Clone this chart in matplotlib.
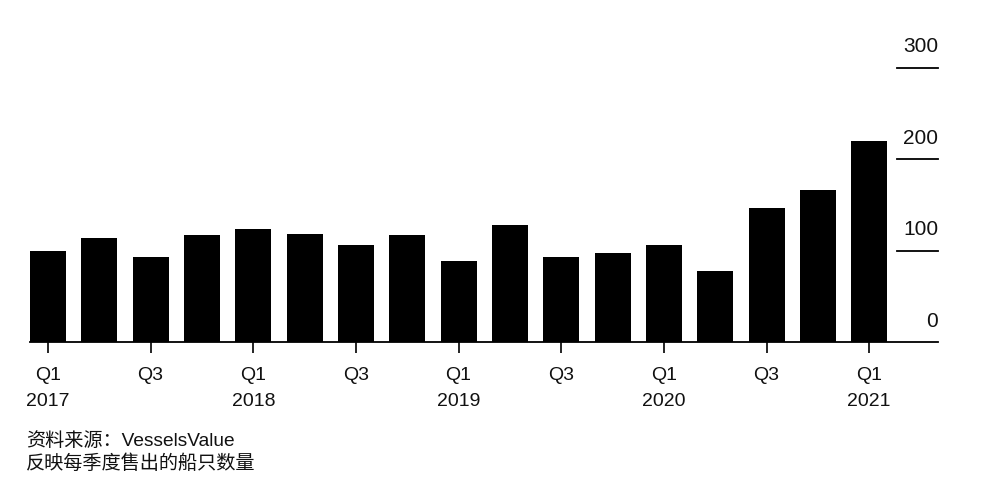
import matplotlib
matplotlib.use("Agg")
import matplotlib.pyplot as plt
import matplotlib.transforms as mtransforms

plt.rcParams['font.family'] = ['Liberation Sans', 'Noto Sans CJK SC', 'DejaVu Sans']

quarters = ["Q1\n2017", "Q2", "Q3", "Q4", "Q1\n2018", "Q2", "Q3", "Q4",
            "Q1\n2019", "Q2", "Q3", "Q4", "Q1\n2020", "Q2", "Q3", "Q4", "Q1\n2021"]
values = [99, 114, 93, 117, 123, 118, 106, 117, 89, 128, 93, 97, 106, 78, 146, 166, 220]
yticks = [0, 100, 200, 300]
source_line = "资料来源：VesselsValue"
note_line = "反映每季度售出的船只数量"

W, H = 1005, 480
fig = plt.figure(figsize=(W / 100, H / 100), dpi=100)
fig.patch.set_facecolor("white")

ymax = 320
px_per_unit = 0.915
bottom_px = 342
top_px = bottom_px - ymax * px_per_unit
ax = fig.add_axes([30 / W, (H - bottom_px) / H, (938 - 30) / W, (bottom_px - top_px) / H])

x = list(range(len(values)))
ax.bar(x, values, width=0.7, color="black", edgecolor="none")
ax.set_xlim(-0.35, 17.34)
ax.set_ylim(0, ymax)

for s in ["top", "right", "left"]:
    ax.spines[s].set_visible(False)
ax.spines["bottom"].set_linewidth(1.3)
ax.spines["bottom"].set_color("black")

tick_pos = x[::2]
tick_labels = [quarters[i] for i in tick_pos]
ax.set_xticks(tick_pos)
ax.set_xticklabels(tick_labels, fontsize=14, linespacing=1.7, va="top", color="#111111")
ax.tick_params(axis="x", length=8, width=1.2, color="black", pad=10)
ax.set_yticks([])

trans = mtransforms.blended_transform_factory(ax.transAxes, ax.transData)
left_frac = (897 - 30) / (938 - 30)
for v in yticks:
    if v > 0:
        ax.plot([left_frac, 1.0], [v, v], transform=trans, color="black", lw=1.3, clip_on=False)
    ax.annotate(str(v), xy=(1.0, v), xycoords=trans, xytext=(0, 8), textcoords="offset points",
                ha="right", va="bottom", fontsize=15, color="#111111", annotation_clip=False)

fig.text(26 / W, 1 - 446 / H, source_line, fontsize=13.8, ha="left", va="baseline", color="#111111")
fig.text(26 / W, 1 - 469 / H, note_line, fontsize=13.8, ha="left", va="baseline", color="#111111")

fig.savefig("out.png", dpi=100, facecolor="white")
